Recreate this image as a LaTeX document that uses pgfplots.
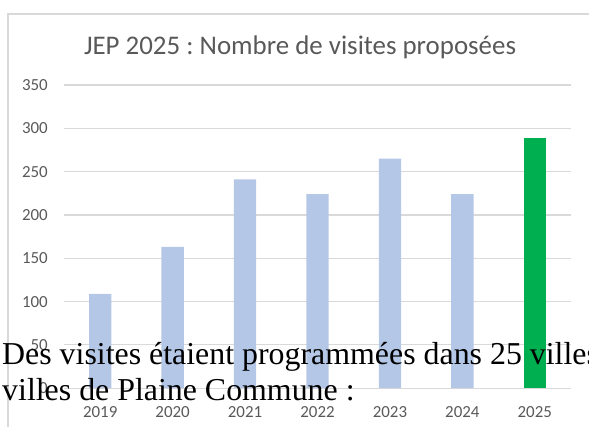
\documentclass[border=0pt]{standalone}
\usepackage{fontspec}
\setmainfont{Carlito}
\newfontfamily\timesfont{Liberation Serif}
\usepackage{pgfplots}
\pgfplotsset{compat=1.18}
\definecolor{barblue}{HTML}{B4C7E7}
\definecolor{bargreen}{HTML}{00B050}
\definecolor{txtgray}{HTML}{595959}
\definecolor{gridgray}{HTML}{D9D9D9}
\frenchspacing
\begin{document}
\begin{tikzpicture}
\useasboundingbox (0,0) rectangle (589bp,427bp);
\clip (0,0) rectangle (589bp,427bp);
% chart frame
\draw[gridgray, line width=1.2bp] (8bp,-5bp) -- (8bp,413bp) -- (600bp,413bp);
\node[anchor=base, text=txtgray, inner sep=0pt, font=\fontsize{27}{27}\selectfont] at (300bp,372bp) {JEP 2025 : Nombre de visites proposées};
\begin{axis}[
  at={(64bp,38.8bp)}, anchor=south west,
  scale only axis, width=507bp, height=303.2bp,
  xmin=-0.5, xmax=6.5, ymin=0, ymax=350,
  ybar, bar width=22.3bp,
  axis line style={draw=none},
  major tick length=0pt,
  ytick={0,50,...,350},
  xtick={0,...,6},
  xticklabels={2019,2020,2021,2022,2023,2024,2025},
  ymajorgrids, grid style={gridgray, line width=1.2bp},
  /pgf/number format/assume math mode=true,
  yticklabel style={text=txtgray, font=\fontsize{17}{17}\selectfont, inner sep=0pt, anchor=east, xshift=-16bp},
  xticklabel style={text=txtgray, font=\fontsize{17}{17}\selectfont, inner sep=0pt, anchor=north, yshift=-18bp},
  clip=false,
]
\addplot[fill=barblue, draw=none, bar shift=0pt] coordinates {(0,109) (1,163) (2,241) (3,224) (4,265) (5,224)};
\addplot[fill=bargreen, draw=none, bar shift=0pt] coordinates {(6,289)};
\end{axis}
\node[anchor=base west, inner sep=0pt, font=\timesfont\fontsize{32}{36}\selectfont] at (2bp,62bp) {Des visites étaient programmées dans 25 villes};
\node[anchor=base west, inner sep=0pt, font=\timesfont\fontsize{32}{36}\selectfont] at (2bp,27bp) {villes de Plaine Commune :};
\end{tikzpicture}
\end{document}
